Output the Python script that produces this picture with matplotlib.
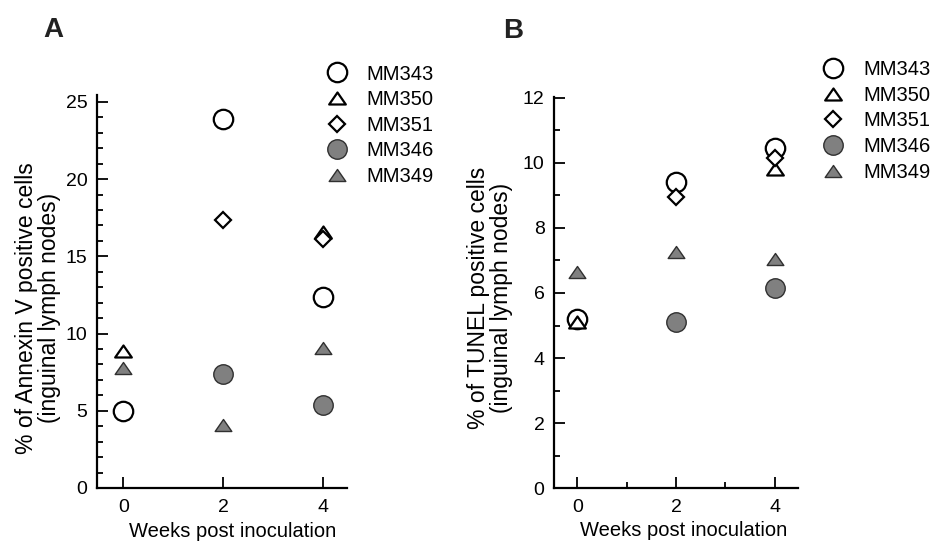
import numpy as np
import matplotlib
matplotlib.use('Agg')
import matplotlib.pyplot as plt
from matplotlib.path import Path
from matplotlib.ticker import MultipleLocator

plt.rcParams['font.family'] = ['Liberation Sans', 'DejaVu Sans']

# data
weeks = [0, 2, 4]
mice = ['MM343', 'MM350', 'MM351', 'MM346', 'MM349']

annexin_MM343 = [5.0, 23.9, 12.35]
annexin_MM350 = [8.85, np.nan, 16.6]
annexin_MM351 = [np.nan, 17.35, 16.15]
annexin_MM346 = [np.nan, 7.4, 5.4]
annexin_MM349 = [7.75, 4.1, 9.05]

tunel_MM343 = [5.2, 9.4, 10.45]
tunel_MM350 = [5.1, np.nan, 9.8]
tunel_MM351 = [np.nan, 8.95, 10.15]
tunel_MM346 = [np.nan, 5.1, 6.15]
tunel_MM349 = [6.65, 7.25, 7.05]

annexin = [annexin_MM343, annexin_MM350, annexin_MM351, annexin_MM346, annexin_MM349]
tunel = [tunel_MM343, tunel_MM350, tunel_MM351, tunel_MM346, tunel_MM349]

W, H = 933, 545

# flat triangle like the original symbols
tri = Path([(0, 0.72), (-1, -0.72), (1, -0.72), (0, 0.72)],
           [Path.MOVETO, Path.LINETO, Path.LINETO, Path.CLOSEPOLY])

grey = '#808080'
styles = [
    dict(marker='o', ms=14, mfc='white', mec='black', mew=1.6),
    dict(marker=tri, ms=12, mfc='white', mec='black', mew=1.6),
    dict(marker='D', ms=8.6, mfc='white', mec='black', mew=1.6),
    dict(marker='o', ms=14, mfc=grey, mec='#303030', mew=1.0),
    dict(marker=tri, ms=12, mfc=grey, mec='#303030', mew=1.0),
]


def px(x, y):
    # pixel (from top-left) -> figure fraction
    return x / W, 1 - y / H


def panel(rect, vals, xlim, ylim, ymaj, xminor, ylabel, ylab_xy, xlab_xy,
          letter, letter_xy, leg_xy):
    ax = fig.add_axes(rect)
    for name, v, st in zip(mice, vals, styles):
        ax.plot(weeks, v, ls='none', label=name, clip_on=False, **st)
    ax.set_xlim(*xlim)
    ax.set_ylim(*ylim)
    ax.set_xticks(weeks)
    ax.yaxis.set_major_locator(MultipleLocator(ymaj))
    ax.yaxis.set_minor_locator(MultipleLocator(1))
    if xminor:
        ax.xaxis.set_minor_locator(MultipleLocator(1))
    for s in ['top', 'right']:
        ax.spines[s].set_visible(False)
    for s in ['left', 'bottom']:
        ax.spines[s].set_linewidth(1.6)
    ax.tick_params(which='both', direction='in', width=1.3, labelsize=14)
    ax.tick_params(which='major', length=8)
    ax.tick_params(which='minor', length=4.5)
    ax.tick_params(axis='y', pad=7)
    ax.tick_params(axis='x', pad=8)

    fig.text(*px(*ylab_xy), ylabel, rotation=90, ha='center', va='center',
             multialignment='center', fontsize=16.5, linespacing=1.0)
    fig.text(*px(*xlab_xy), 'Weeks post inoculation', ha='center',
             va='center', fontsize=14.5)
    fig.text(*px(*letter_xy), letter, fontsize=20, fontweight='bold',
             ha='left', va='baseline', color='#222222')

    ax.legend(loc='upper left', bbox_to_anchor=px(*leg_xy),
              bbox_transform=fig.transFigure, frameon=False, numpoints=1,
              fontsize=14.5, borderpad=0, borderaxespad=0, handlelength=1.0,
              handletextpad=0.98, labelspacing=0.33)
    return ax


fig = plt.figure(figsize=(W / 100, H / 100), dpi=100)

panel([97.3 / W, 57 / H, 249.4 / W, 393 / H], annexin,
      (-0.52, 4.47), (0, 25.45), 5, False,
      '% of Annexin V positive cells\n(inguinal lymph nodes)',
      (38.5, 308), (232.5, 531.7), 'A', (43, 36.7), (327, 64.5))

panel([554.3 / W, 56.7 / H, 244 / W, 391.6 / H], tunel,
      (-0.47, 4.48), (0, 12.03), 2, True,
      '% of TUNEL positive cells\n(inguinal lymph nodes)',
      (490, 298), (683.3, 530), 'B', (503, 38.3), (823.3, 60))

fig.savefig('out.png', dpi=100)
